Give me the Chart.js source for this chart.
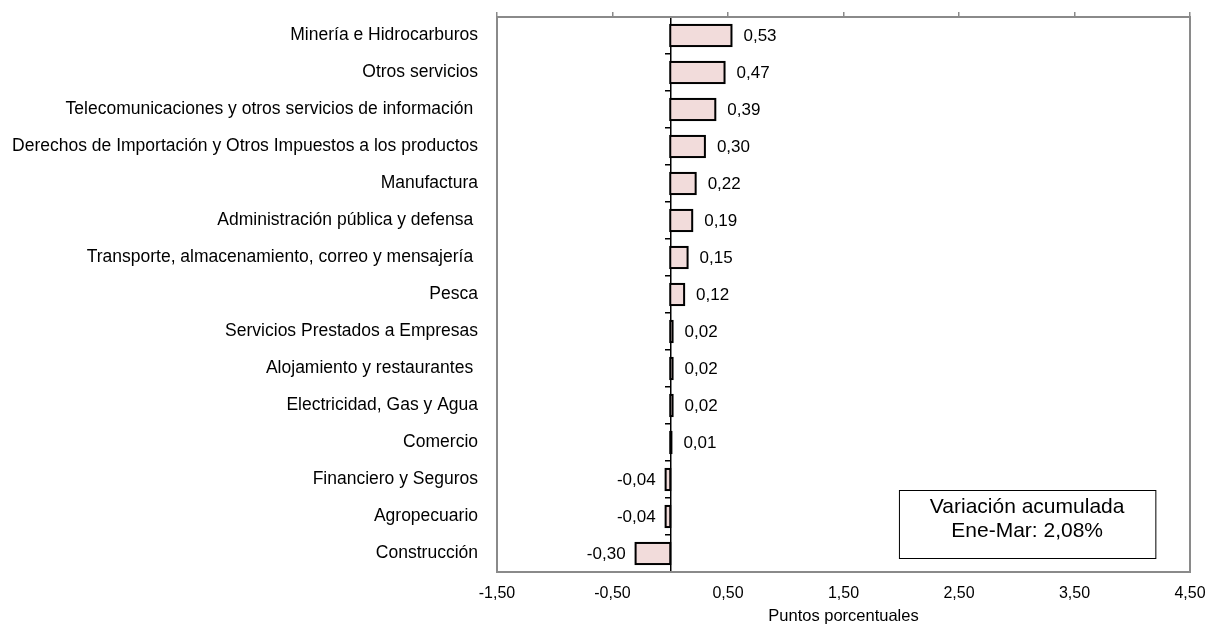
<!DOCTYPE html>
<html lang="es">
<head>
<meta charset="utf-8">
<title>Contribución por actividad</title>
<script src="https://cdn.jsdelivr.net/npm/chart.js@4/dist/chart.umd.min.js"></script>
<style>
  html, body { margin: 0; padding: 0; background: #fff; }
  #wrap { width: 1206px; height: 626px; position: relative; }
</style>
</head>
<body>
<div id="wrap"><canvas id="contribChart" width="1206" height="626"></canvas></div>
<script>
// ============================================================
// Contribución al crecimiento - Ene-Mar (puntos porcentuales)
// ============================================================

const actividades = [
  'Minería e Hidrocarburos',
  'Otros servicios',
  'Telecomunicaciones y otros servicios de información ',
  'Derechos de Importación y Otros Impuestos a los productos',
  'Manufactura',
  'Administración pública y defensa ',
  'Transporte, almacenamiento, correo y mensajería ',
  'Pesca',
  'Servicios Prestados a Empresas',
  'Alojamiento y restaurantes ',
  'Electricidad, Gas y Agua',
  'Comercio',
  'Financiero y Seguros',
  'Agropecuario',
  'Construcción'
];

const contribuciones = [0.53, 0.47, 0.39, 0.30, 0.22, 0.19, 0.15, 0.12, 0.02, 0.02, 0.02, 0.01, -0.04, -0.04, -0.30];

const ejeMin = -1.5;
const ejeMax = 4.5;
const ejePaso = 1;

const tituloEje = 'Puntos porcentuales';
const notaLineas = ['Variación acumulada', 'Ene-Mar: 2,08%'];

const FONT = "'Liberation Sans', Arial, sans-serif";
const fmt = v => Number(v).toFixed(2).replace('.', ',');

// frame around the plot area
const marcoPlugin = {
  id: 'marco',
  beforeDatasetsDraw(chart) {
    const { ctx, chartArea: a } = chart;
    ctx.save();
    ctx.strokeStyle = '#8a8a8a';
    ctx.lineWidth = 2;
    ctx.strokeRect(a.left, a.top, a.right - a.left, a.bottom - a.top);
    ctx.restore();
  }
};

// bar outlines centred on the edges (like Excel), so tiny bars stay visible
const bordesPlugin = {
  id: 'bordes',
  afterDatasetsDraw(chart) {
    const { ctx } = chart;
    const meta = chart.getDatasetMeta(0);
    ctx.save();
    ctx.strokeStyle = '#000';
    ctx.lineWidth = 2;
    meta.data.forEach(bar => {
      const { x, y, base, height } = bar.getProps(['x', 'y', 'base', 'height'], true);
      const left = Math.min(x, base);
      const w = Math.abs(x - base);
      ctx.strokeRect(left, y - height / 2, w, height);
    });
    ctx.restore();
  }
};

// value labels next to each bar + note box
const etiquetasPlugin = {
  id: 'etiquetas',
  afterDraw(chart) {
    const { ctx, chartArea: a } = chart;
    const meta = chart.getDatasetMeta(0);
    ctx.save();
    ctx.font = `17px ${FONT}`;
    ctx.fillStyle = '#000';
    ctx.textBaseline = 'middle';
    meta.data.forEach((bar, i) => {
      const v = contribuciones[i];
      if (v >= 0) {
        ctx.textAlign = 'left';
        ctx.fillText(fmt(v), bar.x + 12, bar.y + 1);
      } else {
        ctx.textAlign = 'right';
        ctx.fillText(fmt(v), bar.x - 10, bar.y + 1);
      }
    });

    // note box
    const xs = chart.scales.x;
    const bx1 = xs.getPixelForValue(1.98);
    const bx2 = xs.getPixelForValue(4.2);
    const by1 = a.bottom - 82;
    const by2 = a.bottom - 14;
    ctx.fillStyle = '#fff';
    ctx.fillRect(bx1, by1, bx2 - bx1, by2 - by1);
    ctx.strokeStyle = '#000';
    ctx.lineWidth = 1;
    ctx.strokeRect(bx1 + 0.5, by1 + 0.5, bx2 - bx1, by2 - by1);
    ctx.fillStyle = '#000';
    ctx.font = `21px ${FONT}`;
    ctx.textAlign = 'center';
    const cx = (bx1 + bx2) / 2;
    ctx.fillText(notaLineas[0], cx, by1 + 17);
    ctx.fillText(notaLineas[1], cx, by1 + 41);
    ctx.restore();
  }
};

const sinPadding = s => { s.paddingTop = 0; s.paddingBottom = 0; s.paddingLeft = 0; s.paddingRight = 0; };

const ctx = document.getElementById('contribChart');
new Chart(ctx, {
  type: 'bar',
  data: {
    labels: actividades,
    datasets: [{
      data: contribuciones,
      backgroundColor: '#f2dcdb',
      borderWidth: 0,
      inflateAmount: 0,
      barPercentage: 0.57,
      categoryPercentage: 1
    }]
  },
  options: {
    indexAxis: 'y',
    responsive: false,
    animation: false,
    layout: { padding: { top: 0, right: 16, left: 0, bottom: 0 } },
    plugins: {
      legend: { display: false },
      tooltip: { enabled: false }
    },
    scales: {
      x: {
        type: 'linear',
        position: 'bottom',
        min: ejeMin,
        max: ejeMax,
        grid: { display: false, drawTicks: false },
        border: { display: false },
        ticks: {
          stepSize: ejePaso,
          padding: 12,
          maxRotation: 0,
          color: '#000',
          font: { family: FONT, size: 16 },
          callback: v => fmt(v)
        },
        title: {
          display: true,
          text: tituloEje,
          color: '#000',
          font: { family: FONT, size: 16.5, lineHeight: 1.0 },
          padding: { top: 0, bottom: 1 }
        },
        afterFit: s => { s.height = 54; sinPadding(s); }
      },
      x2: {
        type: 'linear',
        position: 'top',
        min: ejeMin,
        max: ejeMax,
        grid: { drawOnChartArea: false, tickLength: 5, color: '#8a8a8a', lineWidth: 1.5 },
        border: { display: false },
        ticks: { stepSize: ejePaso, display: false },
        afterFit: s => { s.height = 17; sinPadding(s); }
      },
      y: {
        position: 'left',
        grid: { display: false, drawTicks: false },
        border: { display: false },
        ticks: {
          padding: 19,
          autoSkip: false,
          color: '#000',
          font: { family: FONT, size: 17.5 }
        },
        afterFit: s => { s.width = 497; sinPadding(s); }
      },
      y2: {
        type: 'category',
        position: { x: 0 },
        offset: true,
        grid: { offset: true, drawOnChartArea: false, tickLength: 5, color: '#000', lineWidth: 1.5 },
        border: { display: true, color: '#000', width: 1.5 },
        ticks: { display: false },
        afterFit: s => { sinPadding(s); }
      }
    }
  },
  plugins: [marcoPlugin, bordesPlugin, etiquetasPlugin]
});
</script>
</body>
</html>
